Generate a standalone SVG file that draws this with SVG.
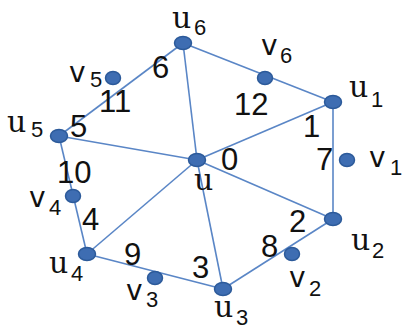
<svg xmlns="http://www.w3.org/2000/svg" width="403" height="329" viewBox="0 0 403 329">
<style>
.e{stroke:#5a86c6;stroke-width:1.6;fill:none}
.n{fill:#3e6db2;stroke:#2c5a9a;stroke-width:1.5}
.d{font-family:"Liberation Sans",Arial,sans-serif;font-size:31px;fill:#111}
.u{font-family:"DejaVu Serif",serif;font-size:30px;fill:#111}
.v{font-family:"DejaVu Sans",sans-serif;font-size:28px;fill:#111}
.s{font-family:"Liberation Sans",Arial,sans-serif;font-size:22px;fill:#111}
</style>
<rect width="403" height="329" fill="#fff"/>
<g id="connectors">
<line class="e" x1="183" y1="43" x2="59" y2="136"/>
<line class="e" x1="183" y1="43" x2="333" y2="102"/>
<line class="e" x1="183" y1="43" x2="197" y2="160"/>
<line class="e" x1="59" y1="136" x2="197" y2="160"/>
<line class="e" x1="333" y1="102" x2="197" y2="160"/>
<line class="e" x1="333" y1="102" x2="333" y2="219"/>
<line class="e" x1="333" y1="219" x2="197" y2="160"/>
<line class="e" x1="333" y1="219" x2="223" y2="289"/>
<line class="e" x1="223" y1="289" x2="197" y2="160"/>
<line class="e" x1="223" y1="289" x2="87" y2="254"/>
<line class="e" x1="87" y1="254" x2="197" y2="160"/>
<line class="e" x1="87" y1="254" x2="59" y2="136"/>
</g>
<g id="u"><ellipse class="n" cx="197" cy="160" rx="8.5" ry="6.5"/><text class="u" x="194" y="190">u</text></g>
<g id="u1"><ellipse class="n" cx="333" cy="102" rx="8.5" ry="6.5"/><text class="u" x="349" y="97">u</text><text class="s" x="371" y="107">1</text></g>
<g id="u2"><ellipse class="n" cx="333" cy="219" rx="8.5" ry="6.5"/><text class="u" x="351" y="250">u</text><text class="s" x="372" y="258">2</text></g>
<g id="u3"><ellipse class="n" cx="223" cy="289" rx="8.5" ry="6.5"/><text class="u" x="214" y="317">u</text><text class="s" x="236" y="325">3</text></g>
<g id="u4"><ellipse class="n" cx="87" cy="254" rx="8.5" ry="6.5"/><text class="u" x="49" y="273">u</text><text class="s" x="71" y="281">4</text></g>
<g id="u5"><ellipse class="n" cx="59" cy="136" rx="8.5" ry="6.5"/><text class="u" x="7" y="132">u</text><text class="s" x="31" y="137">5</text></g>
<g id="u6"><ellipse class="n" cx="183" cy="43" rx="8.5" ry="6.5"/><text class="u" x="172" y="28">u</text><text class="s" x="194" y="35">6</text></g>
<g id="v1"><ellipse class="n" cx="347" cy="160" rx="7.5" ry="6.5"/><text class="v" x="369" y="167">v</text><text class="s" x="390" y="175">1</text></g>
<g id="v2"><ellipse class="n" cx="292" cy="254" rx="7.5" ry="6.5"/><text class="v" x="289" y="287">v</text><text class="s" x="309" y="296">2</text></g>
<g id="v3"><ellipse class="n" cx="155" cy="278" rx="7.5" ry="6.5"/><text class="v" x="126" y="300">v</text><text class="s" x="146" y="307">3</text></g>
<g id="v4"><ellipse class="n" cx="73" cy="196" rx="7.5" ry="6.5"/><text class="v" x="29" y="207">v</text><text class="s" x="49" y="215">4</text></g>
<g id="v5"><ellipse class="n" cx="113" cy="78" rx="7.5" ry="6.5"/><text class="v" x="69" y="82">v</text><text class="s" x="90" y="87">5</text></g>
<g id="v6"><ellipse class="n" cx="265" cy="78" rx="7.5" ry="6.5"/><text class="v" x="261" y="55">v</text><text class="s" x="280" y="63">6</text></g>
<g id="labels">
<text class="d" x="221" y="170">0</text>
<text class="d" x="303" y="137">1</text>
<text class="d" x="289" y="232">2</text>
<text class="d" x="192" y="278">3</text>
<text class="d" x="82" y="230">4</text>
<text class="d" x="70" y="137">5</text>
<text class="d" x="152" y="78">6</text>
<text class="d" x="316" y="170">7</text>
<text class="d" x="261" y="257">8</text>
<text class="d" x="124" y="265">9</text>
<text class="d" x="57" y="183">10</text>
<text class="d" x="99" y="112">11</text>
<text class="d" x="234" y="115">12</text>
</g>
</svg>
